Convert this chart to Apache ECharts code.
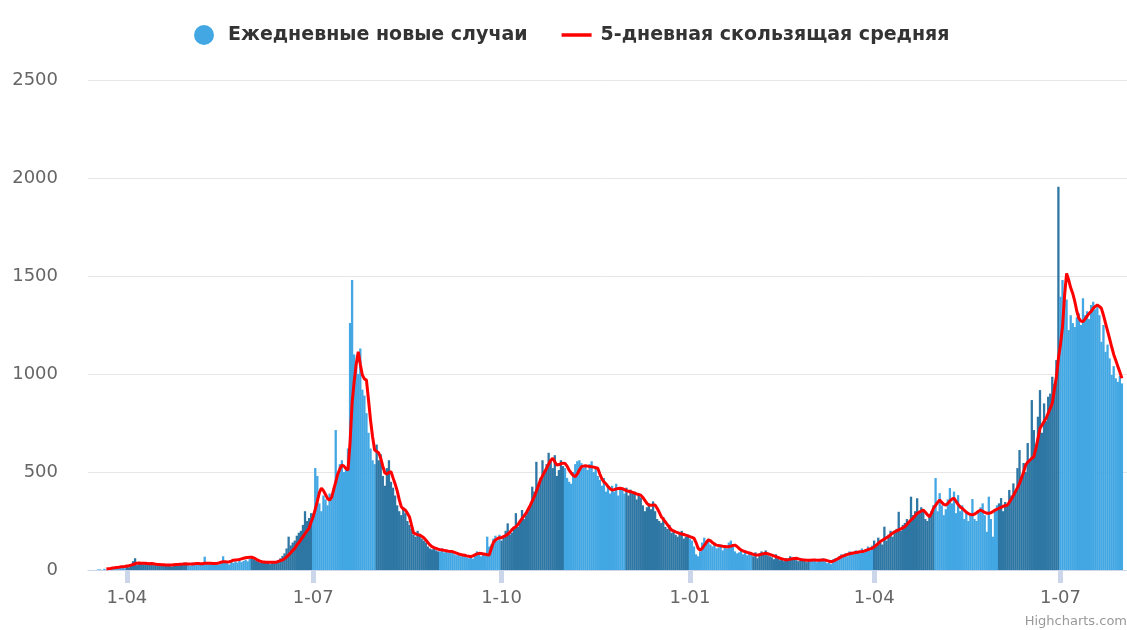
<!DOCTYPE html>
<html><head><meta charset="utf-8">
<script src="https://cdn.jsdelivr.net/npm/echarts@6/dist/echarts.min.js"></script>
<style>html,body{margin:0;padding:0;background:#fff}#c{width:1127px;height:630px}</style>
</head><body><div id="c"></div>
<script>
const seriesNames = ['Ежедневные новые случаи', '5-дневная скользящая средняя'];
const tickDates = ['2020-04-01','2020-07-01','2020-10-01','2021-01-01','2021-04-01','2021-07-01'];
const tickLabels = ['1-04','1-07','1-10','1-01','1-04','1-07'];
const yTicks = [0, 500, 1000, 1500, 2000, 2500];

// daily new cases, one array per month; each starts at the matching date
const caseMonths = ['2020-03-18','2020-04-01','2020-05-01','2020-06-01','2020-07-01','2020-08-01','2020-09-01','2020-10-01','2020-11-01','2020-12-01','2021-01-01','2021-02-01','2021-03-01','2021-04-01','2021-05-01','2021-06-01','2021-07-01'];
const dailyCases = [
  [3,3,0,6,2,10,4,14,14,10,14,20,16,9],
  [18,14,30,45,60,25,40,38,30,34,36,28,40,25,32,22,26,30,24,28,22,30,18,26,34,22,30,28,38,26],
  [28,22,38,35,30,40,26,36,68,32,30,38,26,34,40,28,36,70,40,35,28,42,36,44,38,50,40,46,52,44,56],
  [70,55,50,45,38,42,36,40,38,30,44,35,40,50,60,72,85,110,170,125,140,150,175,190,200,230,300,250,265,290],
  [290,520,480,340,300,380,360,330,390,360,420,714,480,540,560,500,520,620,1260,1480,1100,1050,1000,1130,920,890,800,700,620,560,540],
  [640,560,590,480,430,520,560,450,420,380,330,300,280,320,290,250,230,210,180,170,200,185,160,150,140,120,110,105,115,100,95],
  [95,110,90,100,88,92,98,80,75,85,70,72,78,65,60,72,58,80,95,90,70,88,75,170,120,130,160,175,150,180],
  [150,175,200,238,180,190,210,290,220,245,306,260,280,300,330,425,400,552,440,470,560,500,540,598,560,520,586,480,510,560,530],
  [520,470,450,440,500,540,555,560,545,520,530,510,540,555,500,520,480,460,430,470,400,420,390,430,400,440,380,420,410,390],
  [420,380,410,390,400,360,380,370,330,300,320,340,310,350,300,260,250,240,270,220,210,230,190,200,180,170,190,200,160,170,180],
  [160,150,120,80,70,95,140,165,150,160,130,120,140,110,115,130,100,125,110,140,150,120,95,85,90,100,80,95,75,85,80],
  [70,90,60,85,95,80,100,75,70,65,55,80,60,50,55,45,60,50,70,55,65,50,45,60,48,55,40,52],
  [45,55,50,40,52,48,60,45,35,40,30,55,60,50,70,80,75,85,70,95,90,80,100,95,85,110,90,105,120,100,125],
  [150,120,165,140,130,221,150,180,200,170,190,210,297,200,230,240,260,250,374,280,300,366,290,320,310,260,250,280,300,330],
  [469,300,392,330,280,310,360,418,340,400,290,382,300,330,260,300,250,280,362,260,250,300,320,340,280,195,374,260,170,300,330],
  [340,367,300,347,330,408,380,442,400,520,612,480,546,500,648,560,867,714,640,782,918,700,850,760,884,900,986,950,1071,1955],
  [1394,1479,1420,1380,1224,1300,1260,1240,1290,1309,1250,1386,1300,1320,1280,1352,1368,1330,1340,1300,1164,1250,1113,1150,1080,995,1040,978,960,990,952]
];

// 5-day moving average, one array per month
const avgMonths = ['2020-03-22','2020-04-01','2020-05-01','2020-06-01','2020-07-01','2020-08-01','2020-09-01','2020-10-01','2020-11-01','2020-12-01','2021-01-01','2021-02-01','2021-03-01','2021-04-01','2021-05-01','2021-06-01','2021-07-01'];
const movingAvg = [
  [5,7,8,10,11,13,14,16,17,18],
  [20,22,25,28,32,35,36,35,34,34,33,32,33,32,30,28,28,27,27,26,26,25,26,27,28,28,29,30,31,32],
  [30,30,31,32,33,33,32,32,34,35,35,34,33,33,34,36,40,42,42,41,42,45,50,51,52,54,57,60,62,64,65],
  [65,62,56,50,45,42,41,40,40,39,39,39,40,44,48,51,58,66,77,88,100,110,128,140,155,170,185,200,214,245],
  [272,310,350,395,418,405,385,365,357,370,410,450,490,515,535,530,518,510,650,852,960,1050,1113,1050,995,975,969,870,765,680,612],
  [605,597,570,530,495,490,498,501,470,440,405,360,323,312,306,290,272,230,189,184,180,178,172,165,153,140,128,119,114,110,106],
  [104,102,100,98,96,95,94,90,86,82,79,77,75,72,70,68,72,77,82,85,84,82,80,78,77,110,140,153,160,165],
  [165,170,175,182,192,205,215,221,232,248,262,276,290,310,330,352,374,402,430,459,480,500,519,540,560,570,552,535,538,542,545],
  [544,530,510,495,482,476,490,510,527,530,532,530,528,527,525,522,519,490,465,450,440,425,415,408,410,414,416,417,415,410],
  [405,402,399,396,392,388,385,382,370,355,340,331,330,331,331,315,295,272,260,246,232,218,204,200,195,191,187,184,181,178,174],
  [170,166,162,140,111,102,110,125,140,153,150,140,132,127,125,123,121,120,119,119,122,125,127,120,110,102,97,94,90,87,84],
  [80,77,76,78,81,83,85,83,80,76,72,68,64,60,57,54,51,53,55,58,59,60,57,54,52,51,50,50],
  [50,51,51,50,50,51,51,51,48,45,42,45,50,56,62,68,72,76,80,83,85,87,89,91,93,94,96,100,104,108,111],
  [118,126,136,145,152,158,165,170,180,188,195,200,205,210,215,221,232,245,255,265,277,289,295,300,306,295,282,272,290,315],
  [330,345,357,345,335,331,340,352,362,366,350,335,322,315,305,295,288,284,281,285,292,300,306,300,294,290,289,292,298,305,310],
  [315,320,325,328,331,345,362,380,400,420,442,470,500,535,550,560,570,578,620,670,723,740,758,774,800,825,850,920,986,1080],
  [1150,1241,1400,1513,1480,1440,1411,1370,1320,1284,1270,1267,1280,1295,1309,1320,1335,1345,1352,1345,1335,1300,1260,1220,1180,1139,1100,1070,1040,1010,978]
];

const DAY = 86400000;
const ORIGIN = Date.UTC(2020, 3, 1);
function dayIndex(s) { const p = s.split('-').map(Number); return (Date.UTC(p[0], p[1]-1, p[2]) - ORIGIN) / DAY; }
function build(starts, groups) {
  const out = [];
  groups.forEach((g, k) => { const d0 = dayIndex(starts[k]); g.forEach((v, i) => out.push([d0 + i, v])); });
  return out;
}
const barData = build(caseMonths, dailyCases);
const lineData = build(avgMonths, movingAvg);
const tickIdx = tickDates.map(dayIndex);

const LIGHT = '#42a7e3', DARK = '#2e76a3';
function monthOf(d) { return new Date(ORIGIN + d * DAY).getUTCMonth() + 1; }

const chart = echarts.init(document.getElementById('c'), null, {renderer: 'canvas'});
chart.setOption({
  animation: false,
  backgroundColor: '#fff',
  grid: {left: 88, right: 0, top: 80, bottom: 60, containLabel: false},
  legend: {
    top: 20, left: 189, itemWidth: 30, itemHeight: 20, itemGap: 34, symbolKeepAspect: true,
    textStyle: {fontFamily: 'DejaVu Sans', fontSize: 19, fontWeight: 'bold', color: '#333', padding: [0, 0, 0, 4]},
    data: [
      {name: seriesNames[0], icon: 'circle', itemStyle: {color: LIGHT}},
      {name: seriesNames[1], icon: 'path://M0,0 L30,0 L30,3.5 L0,3.5 Z', itemStyle: {color: '#ff0000'}}
    ]
  },
  xAxis: {
    type: 'value', min: -19, max: 488.5,
    splitLine: {show: false},
    axisLine: {show: true, lineStyle: {color: '#ccd6eb', width: 1}},
    axisTick: {show: true, customValues: tickIdx, length: 13, lineStyle: {color: '#ccd6eb', width: 5}},
    axisLabel: {customValues: tickIdx, margin: 19, color: '#666', fontSize: 18, fontFamily: 'DejaVu Sans',
      formatter: v => tickLabels[tickIdx.indexOf(v)] || ''}
  },
  yAxis: {
    type: 'value', min: 0, max: 2500, interval: 500,
    axisLine: {show: false}, axisTick: {show: false},
    axisLabel: {margin: 30, color: '#666', fontSize: 18, fontFamily: 'DejaVu Sans', formatter: v => String(v)},
    splitLine: {lineStyle: {color: '#e6e6e6', width: 1}}
  },
  series: [
    {
      name: seriesNames[0], type: 'bar', data: barData, barWidth: 2.3,
      itemStyle: {color: p => (monthOf(p.value[0]) % 2 === 0 ? DARK : LIGHT)},
      z: 2
    },
    {
      name: seriesNames[1], type: 'line', data: lineData, symbol: 'none', showSymbol: false,
      lineStyle: {color: '#ff0000', width: 3}, itemStyle: {color: '#ff0000'}, z: 3
    }
  ],
  graphic: [{type: 'text', right: 0, bottom: 2, style: {text: 'Highcharts.com', fill: '#999', fontSize: 13, fontFamily: 'DejaVu Sans'}}]
});
</script></body></html>
